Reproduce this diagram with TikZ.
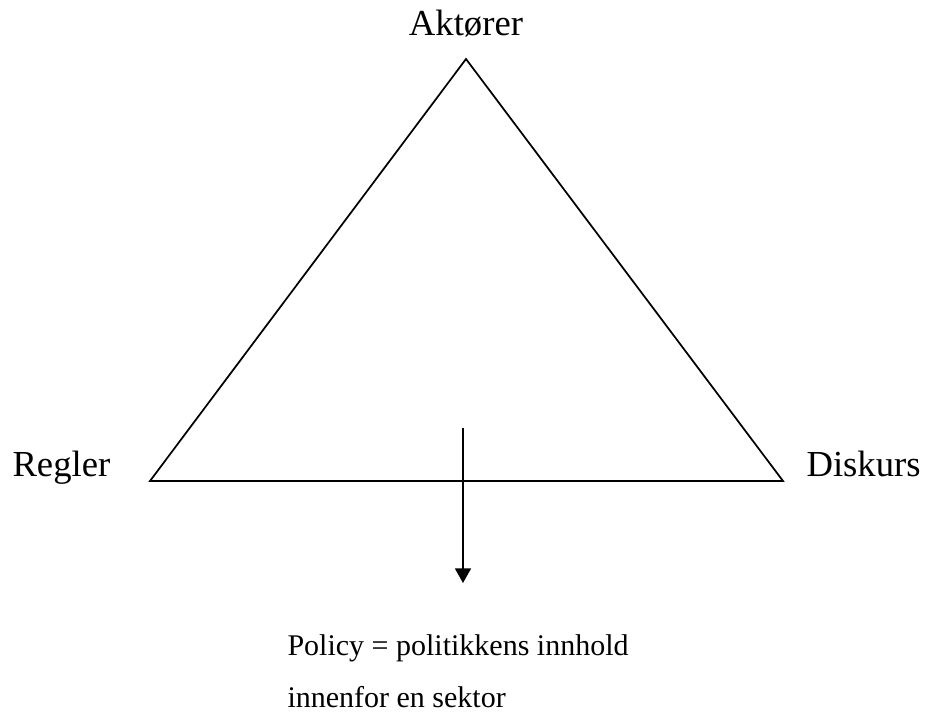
\documentclass[tikz,border=0pt]{standalone}
\usepackage{fontspec}
\setmainfont{Liberation Serif}
\usetikzlibrary{arrows.meta}

\begin{document}
\begin{tikzpicture}[x=0.75pt, y=-0.75pt, thick]

   \tikzstyle{corner}=[inner sep=0pt, font=\fontsize{27.5}{32}\selectfont, text=black]
   \tikzstyle{result}=[inner sep=0pt, align=left, font=\fontsize{22.5}{39}\selectfont, text=black]
   \tikzstyle{side}=[black, line width=1.3pt, line join=miter]
   \tikzstyle{flow}=[-{Triangle[width=12pt, length=11pt]}, black, line width=1.3pt]

   \useasboundingbox (0,0) rectangle (925,713);

   \coordinate (top)   at (466,59);
   \coordinate (left)  at (150,481);
   \coordinate (right) at (783,481);
   \coordinate (from)  at (463,428);
   \coordinate (to)    at (463,583);

   \node[corner, anchor=base]      (akt) at (466,36)  {Aktører};
   \node[corner, anchor=base west] (reg) at (12,476)  {Regler};
   \node[corner, anchor=base west] (dis) at (806,476) {Diskurs};
   \node[result, anchor=north west] (pol) at (287,634) {Policy = politikkens innhold\\innenfor en sektor};

   \draw[side] (top) -- (left) -- (right) -- cycle;
   \draw[flow] (from) -- (to);
\end{tikzpicture}
\end{document}
